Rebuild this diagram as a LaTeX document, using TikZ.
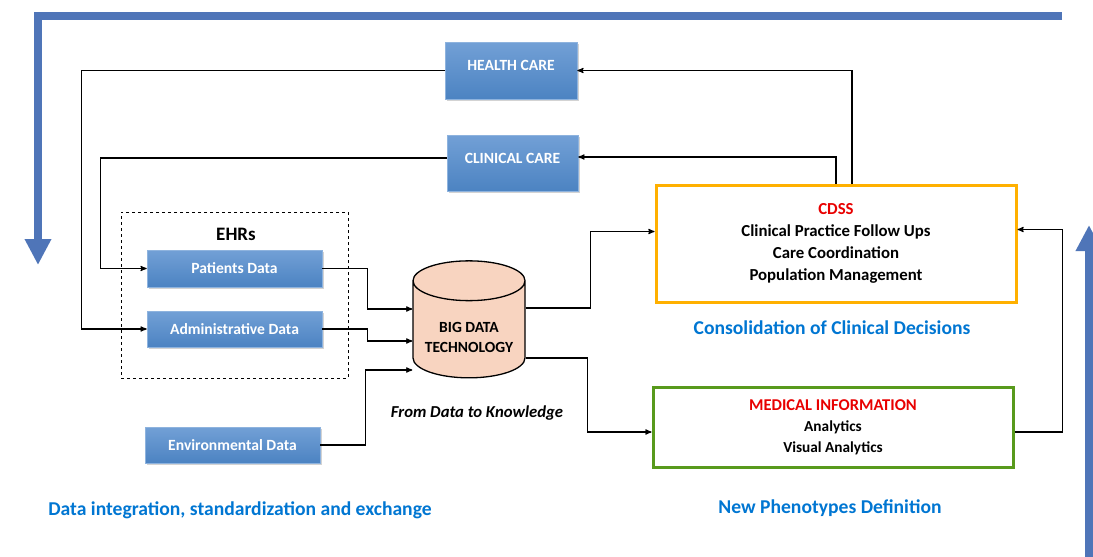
\documentclass[tikz,border=0pt]{standalone}
\usepackage{fontspec}
\setmainfont{Carlito}
\usepackage{tikz}
\usetikzlibrary{positioning,shapes,arrows,arrows.meta,shadows,calc}
\definecolor{boxtop}{RGB}{114,160,214}
\definecolor{boxbot}{RGB}{76,131,194}
\definecolor{bigblue}{RGB}{79,117,184}
\definecolor{peach}{RGB}{248,212,192}
\definecolor{lblue}{RGB}{0,118,210}
\definecolor{cdred}{RGB}{232,0,0}
\definecolor{cdorange}{RGB}{255,176,0}
\definecolor{medgreen}{RGB}{88,154,28}

\begin{document}
\begin{tikzpicture}[x=1pt,y=-1pt,->,>=stealth',line width=1.2pt]
  \tikzstyle{bluebox}=[draw=boxtop!80!white, line width=0.6pt, top color=boxtop, bottom color=boxbot,
     text=white, font=\fontsize{15.6}{17}\selectfont\bfseries, inner sep=0pt,
     drop shadow={shadow xshift=1.5pt, shadow yshift=-2pt, opacity=0.35}]
  \tikzstyle{carebox}=[bluebox, text height=28pt, text depth=29pt, minimum width=132pt]
  \tikzstyle{databox}=[bluebox, minimum width=175pt, minimum height=36pt]
  \tikzstyle{bigarrow}=[-{Triangle[length=26pt,width=25pt]}, line width=8pt, draw=bigblue, miter limit=4]
  \tikzstyle{bluetext}=[text=lblue, font=\fontsize{19.6}{22}\selectfont\bfseries]

  \useasboundingbox (0,0) rectangle (1093,557);

  % care boxes
  \node[carebox] (hc) at (511,70.5) {HEALTH CARE};
  \node[carebox, minimum width=131pt, text depth=28pt] (cc) at (512.5,163) {CLINICAL CARE};

  % EHRs
  \node[draw, dashed, line width=1pt, minimum width=227pt, minimum height=166pt] (ehr) at (234.5,295) {};
  \node[font=\fontsize{19}{22}\selectfont\bfseries] (ehrlab) at (236,234) {EHRs};
  \node[databox, minimum height=37pt] (pat) at (234.5,268.5) {Patients Data};
  \node[databox] (adm) at (234.5,329) {Administrative Data};
  \node[databox] (env) at (232.5,445) {Environmental Data};

  % big data
  \node[cylinder, shape border rotate=90, aspect=0.42, draw, line width=1.3pt, fill=peach,
        minimum width=112pt, minimum height=117pt, align=center,
        font=\fontsize{15.5}{20}\selectfont\bfseries] (big) at (469,333) {\rule{0pt}{20pt}BIG DATA\\TECHNOLOGY};
  \node[font=\fontsize{16.7}{19}\selectfont\bfseries\itshape] (know) at (477,413) {From Data to Knowledge};

  % decision boxes
  \node[draw=cdorange, line width=3pt, minimum width=360pt, minimum height=117pt, align=center,
        font=\fontsize{16.8}{22}\selectfont\bfseries] (cdss) at (836,243.5)
        {\textcolor{cdred}{CDSS}\\Clinical Practice Follow Ups\\Care Coordination\\Population Management};
  \node[draw=medgreen, line width=3pt, minimum width=360pt, minimum height=80pt, align=center,
        font=\fontsize{15.3}{21}\selectfont\bfseries] (med) at (833,427)
        {\textcolor{cdred}{\fontsize{16.5}{21}\selectfont MEDICAL INFORMATION}\\Analytics\\Visual Analytics};

  \node[bluetext] (cons) at (832,328) {Consolidation of Clinical Decisions};
  \node[bluetext] (integ) at (240,510) {Data integration, standardization and exchange};
  \node[bluetext] (pheno) at (830,508) {New Phenotypes Definition};

  % feedback loops
  \draw (hc.west) -- ++(-363,0) |- (adm.west);
  \draw ([yshift=5pt]cc.west) -- ++(-346,0) |- (pat.west);
  \draw ([xshift=16pt]cdss.north) |- (hc.east);
  \draw (cdss.north) |- ([yshift=6pt]cc.east);

  % into big data
  \draw (pat.east) -- ++(45,0) |- ([yshift=24pt]big.west);
  \draw (adm.east) -- ++(45,0) |- ([yshift=-8pt]big.west);
  \draw (env.east) -- ++(45,0) |- ([yshift=-37pt]big.west);

  % out of big data
  \draw ([yshift=25pt]big.east) -- ++(65,0) |- ([yshift=12pt]cdss.west);
  \draw ([yshift=-25pt]big.east) -- ++(62,0) |- ([yshift=-5pt]med.west);
  \draw ([yshift=-5pt]med.east) -- ++(48,0) |- ([yshift=14pt]cdss.east);

  % big arrows
  \coordinate (ltop) at (1062,16);
  \coordinate (lcorner) at (38,16);
  \coordinate (lend) at (38,265);
  \coordinate (rbot) at (1089,560);
  \coordinate (rend) at (1089,225);
  \draw[bigarrow] (ltop) -- (lcorner) -- (lend);
  \draw[bigarrow] (rbot) -- (rend);
\end{tikzpicture}
\end{document}
